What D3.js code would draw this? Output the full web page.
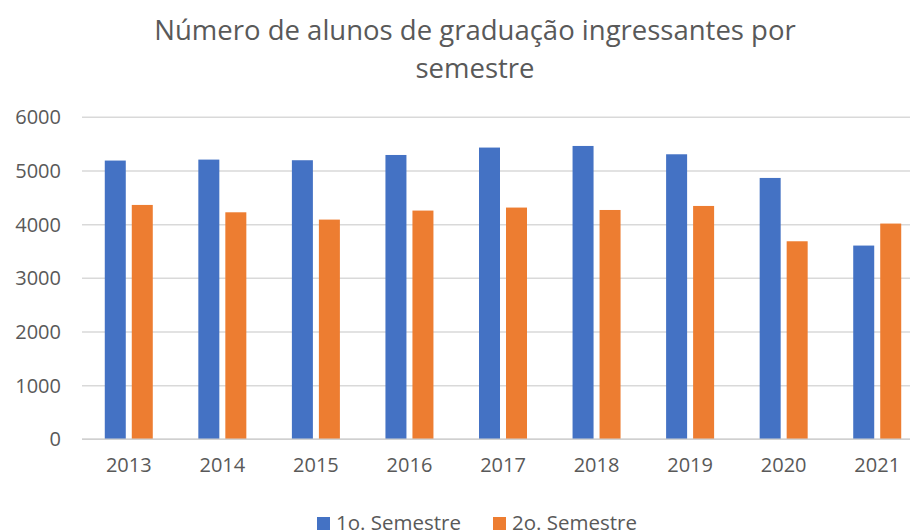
<!DOCTYPE html>
<html>
<head>
<meta charset="utf-8">
<script src="https://cdn.jsdelivr.net/npm/d3@7"></script>
<style>
  body { margin: 0; background: #fff; }
  svg { font-family: "Open Sans", "Noto Sans", sans-serif; }
</style>
</head>
<body>
<div id="chart"></div>
<script>
const years = ["2013", "2014", "2015", "2016", "2017", "2018", "2019", "2020", "2021"];
const series = ["1o. Semestre", "2o. Semestre"];
const sem1 = [5194, 5212, 5200, 5298, 5436, 5466, 5311, 4870, 3610];
const sem2 = [4367, 4230, 4094, 4262, 4318, 4273, 4348, 3690, 4020];
const yTicks = [0, 1000, 2000, 3000, 4000, 5000, 6000];
const colors = ["#4472c4", "#ed7d31"];

const width = 910, height = 530;
const plot = { left: 82, right: 924, top: 117.3, bottom: 439.3 };

const svg = d3.select("#chart").append("svg")
  .attr("width", width).attr("height", height);

const x0 = d3.scaleBand().domain(years).range([plot.left, plot.right]);
const groupW = 48;
const x1 = d3.scaleBand().domain(series).range([0, groupW]).paddingInner(6 / 27);
const y = d3.scaleLinear().domain([0, 6000]).range([plot.bottom, plot.top]);

// gridlines
svg.append("g")
  .selectAll("line")
  .data(yTicks)
  .join("line")
  .attr("x1", plot.left).attr("x2", plot.right)
  .attr("y1", d => y(d)).attr("y2", d => y(d))
  .attr("stroke", "#d9d9d9").attr("stroke-width", 1.5);

// y axis labels
const yAxis = svg.append("g")
  .attr("transform", `translate(${plot.left},0)`)
  .call(d3.axisLeft(y).tickValues(yTicks).tickFormat(d3.format("d")).tickSize(0).tickPadding(21));
yAxis.select(".domain").remove();
yAxis.selectAll("text")
  .attr("fill", "#595959").style("font-size", "20px")
  .style("font-family", "'Open Sans', sans-serif");

// bars
const rows = years.map((yr, i) => ({ year: yr, values: [sem1[i], sem2[i]] }));
svg.append("g")
  .selectAll("g")
  .data(rows)
  .join("g")
  .attr("transform", d => `translate(${x0(d.year) + (x0.bandwidth() - groupW) / 2},0)`)
  .selectAll("rect")
  .data(d => d.values.map((v, k) => ({ s: series[k], v, k })))
  .join("rect")
  .attr("x", d => x1(d.s))
  .attr("y", d => y(d.v))
  .attr("width", x1.bandwidth())
  .attr("height", d => y(0) - y(d.v))
  .attr("fill", d => colors[d.k]);

// x axis
const xAxis = svg.append("g")
  .attr("transform", `translate(0,${plot.bottom})`)
  .call(d3.axisBottom(x0).tickSize(0).tickPadding(19));
xAxis.select(".domain").remove();
xAxis.selectAll("text")
  .attr("fill", "#595959").style("font-size", "20px")
  .style("font-family", "'Open Sans', sans-serif");
svg.append("line")
  .attr("x1", plot.left).attr("x2", plot.right)
  .attr("y1", plot.bottom).attr("y2", plot.bottom)
  .attr("stroke", "#d0d0d0").attr("stroke-width", 1.5);

// title
const title = svg.append("text")
  .attr("text-anchor", "middle")
  .attr("fill", "#595959")
  .style("font-size", "27.5px");
title.append("tspan").attr("x", 475).attr("y", 40).text("Número de alunos de graduação ingressantes por");
title.append("tspan").attr("x", 475).attr("y", 78).text("semestre");

// legend (cut at the bottom edge, as in the original)
const legendX = [317, 493];
const legend = svg.append("g");
series.forEach((s, i) => {
  const g = legend.append("g").attr("transform", `translate(${legendX[i]},517)`);
  g.append("rect").attr("width", 13).attr("height", 13).attr("fill", colors[i]);
  g.append("text").attr("x", 19).attr("y", 13)
    .attr("fill", "#595959").style("font-size", "20.5px").text(s);
});
</script>
</body>
</html>
